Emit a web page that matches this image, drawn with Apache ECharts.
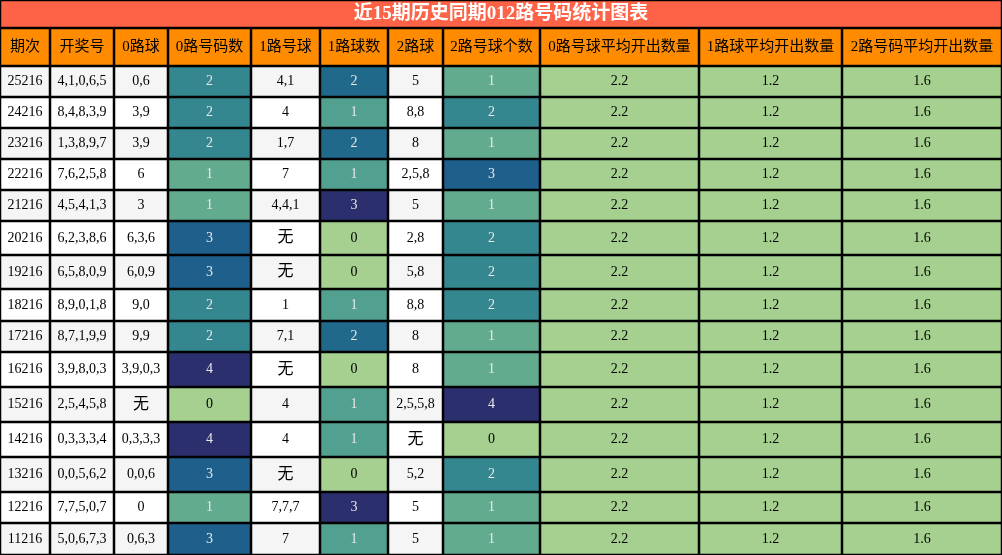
<!DOCTYPE html><html><head><meta charset="utf-8"><script src="https://cdn.jsdelivr.net/npm/echarts@6/dist/echarts.min.js"></script>
<style>html,body{margin:0;padding:0;background:#fff}#c{width:1002px;height:555px}</style></head><body><div id="c"></div><script>
const title='近15期历史同期012路号码统计图表';
const headers=['期次','开奖号','0路球','0路号码数','1路号球','1路球数','2路球','2路号球个数','0路号球平均开出数量','1路球平均开出数量','2路号码平均开出数量'];
const periods=['25216','24216','23216','22216','21216','20216','19216','18216','17216','16216','15216','14216','13216','12216','11216'];
const draws=['4,1,0,6,5','8,4,8,3,9','1,3,8,9,7','7,6,2,5,8','4,5,4,1,3','6,2,3,8,6','6,5,8,0,9','8,9,0,1,8','8,7,1,9,9','3,9,8,0,3','2,5,4,5,8','0,3,3,3,4','0,0,5,6,2','7,7,5,0,7','5,0,6,7,3'];
const balls0=['0,6','3,9','3,9','6','3','6,3,6','6,0,9','9,0','9,9','3,9,0,3','无','0,3,3,3','0,0,6','0','0,6,3'];
const count0=[2,2,2,1,1,3,3,2,2,4,0,4,3,1,3];
const balls1=['4,1','4','1,7','7','4,4,1','无','无','1','7,1','无','4','4','无','7,7,7','7'];
const count1=[2,1,2,1,3,0,0,1,2,0,1,1,0,3,1];
const balls2=['5','8,8','8','2,5,8','5','2,8','5,8','8,8','8','8','2,5,5,8','无','5,2','5','5'];
const count2=[1,2,1,3,1,2,2,2,1,1,4,0,2,1,1];
const avg0=2.2, avg1=1.2, avg2=1.6;
// layout
const colX=[0,50,114,168,251,320,388,443,540,699,842,1002];
const rowY=[66,97,128,159,190,221,255,289,321,352,387,422,457,492,523,555];
const pal0=['#a5d08f','#63ab8f','#34868f','#1f5f8b','#2c2f6e'];
const pal1=['#a5d08f','#52a08f','#21698a','#2c2f6e','#2c2f6e'];
const cells=[];
cells.push([0,1002,0,28,title,'#ff6347','#fff',19,'bold']);
headers.forEach((h,i)=>cells.push([colX[i],colX[i+1],28,66,h,'#ff8c00','#000',15,'normal']));
periods.forEach((p,r)=>{
  const bg=r%2===0?'#f5f5f5':'#ffffff', y0=rowY[r], y1=rowY[r+1];
  const row=[[p,bg,'#000'],[draws[r],bg,'#000'],[balls0[r],bg,'#000'],[String(count0[r]),pal0[count0[r]],count0[r]?'#e8e8e8':'#000'],
   [balls1[r],bg,'#000'],[String(count1[r]),pal1[count1[r]],count1[r]?'#e8e8e8':'#000'],[balls2[r],bg,'#000'],[String(count2[r]),pal0[count2[r]],count2[r]?'#e8e8e8':'#000'],
   [String(avg0),'#a5d08f','#000'],[String(avg1),'#a5d08f','#000'],[String(avg2),'#a5d08f','#000']];
  row.forEach((c,i)=>cells.push([colX[i],colX[i+1],y0,y1,c[0],c[1],c[2],c[0]==='无'?16:14,'normal']));
});
const chart=echarts.init(document.getElementById('c'));
chart.setOption({animation:false,
 grid:{left:0,right:0,top:0,bottom:0},
 xAxis:{type:'value',min:0,max:1002,show:false},
 yAxis:{type:'value',min:0,max:555,inverse:true,show:false},
 series:[{type:'custom',data:cells,renderItem:(params,api)=>{
   const d=cells[params.dataIndex];
   const p0=api.coord([d[0],d[2]]),p1=api.coord([d[1],d[3]]);
   return {type:'group',children:[
     {type:'rect',shape:{x:p0[0]+0.5,y:p0[1]+0.5,width:p1[0]-p0[0]-1,height:p1[1]-p0[1]-1},style:{fill:d[5],stroke:'#000',lineWidth:1.5}},
     {type:'text',style:{text:d[4],x:(p0[0]+p1[0])/2,y:(p0[1]+p1[1])/2,align:'center',verticalAlign:'middle',fill:d[6],font:d[8]+' '+d[7]+'px "Liberation Serif","Noto Sans CJK SC",serif'}}
   ]};
 }}]
});
</script></body></html>
